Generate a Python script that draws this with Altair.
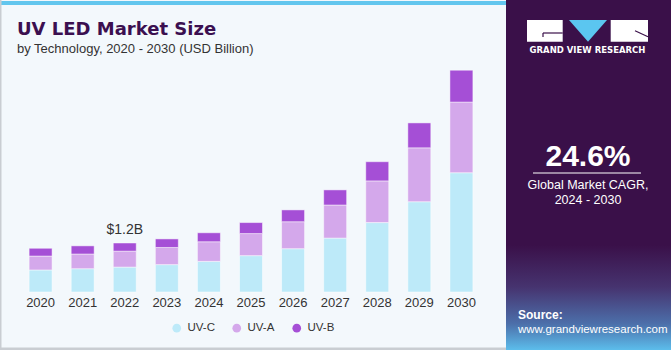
import altair as alt
import pandas as pd

years = ["2020", "2021", "2022", "2023", "2024", "2025", "2026", "2027", "2028", "2029", "2030"]
uv_c = [0.54, 0.57, 0.61, 0.67, 0.75, 0.89, 1.06, 1.32, 1.70, 2.21, 2.92]
uv_a = [0.34, 0.36, 0.39, 0.42, 0.48, 0.54, 0.66, 0.81, 1.02, 1.32, 1.73]
uv_b = [0.19, 0.20, 0.20, 0.21, 0.22, 0.27, 0.29, 0.37, 0.47, 0.61, 0.78]
series = ["UV-C", "UV-A", "UV-B"]
colors = ["#BDEAF9", "#D4A8EB", "#A54FD6"]
callout_year = "2022"
callout_text = "$1.2B"

rows = []
for i, y in enumerate(years):
    for k, (name, vals) in enumerate(zip(series, [uv_c, uv_a, uv_b])):
        rows.append({"year": y, "tech": name, "value": vals[i], "ord": k})
df = pd.DataFrame(rows)

tot = df[df.year == callout_year]["value"].sum()
ann = pd.DataFrame({"year": [callout_year], "total": [tot], "label": [callout_text]})
one = pd.DataFrame({"a": [0]})

OX, OY = 10, 60  # plot origin in page pixels
def px(X):
    return X - OX
def py(Y):
    return Y - OY

FONT = "Liberation Sans"

bars = alt.Chart(df).mark_bar(stroke="white", strokeWidth=0.8, strokeOpacity=0.6).encode(
    x=alt.X("year:N", sort=years, title=None,
            scale=alt.Scale(paddingInner=0.454, paddingOuter=0.454),
            axis=alt.Axis(labelAngle=0, ticks=False, domain=False, labelFontSize=13,
                          labelColor="#333333", labelFont=FONT, labelPadding=4, grid=False)),
    y=alt.Y("value:Q", stack="zero", axis=None,
            scale=alt.Scale(domain=[0, 5.68], nice=False)),
    color=alt.Color("tech:N", scale=alt.Scale(domain=series, range=colors),
                    legend=alt.Legend(title=None, orient="none", direction="horizontal",
                                      legendX=px(171), legendY=py(322), symbolType="circle",
                                      symbolSize=75, symbolStrokeWidth=0, labelFontSize=11.5,
                                      labelFont=FONT, labelColor="#333333", labelOffset=5,
                                      columnPadding=16, padding=0)),
    order=alt.Order("ord:Q", sort="ascending"),
)

callout = alt.Chart(ann).mark_text(baseline="alphabetic", dy=-9, fontSize=14, font=FONT,
                                   color="#333333").encode(
    x=alt.X("year:N", sort=years), y=alt.Y("total:Q"), text="label:N")

def rect(X1, Y1, X2, Y2, color, **kw):
    return alt.Chart(one).mark_rect(**kw).encode(
        x=alt.value(px(X1)), x2=alt.value(px(X2)), y=alt.value(py(Y1)), y2=alt.value(py(Y2)),
        color=alt.value(color))

def grad_rect(X1, Y1, X2, Y2, grad):
    return alt.Chart(one).mark_rect(color=grad).encode(
        x=alt.value(px(X1)), x2=alt.value(px(X2)), y=alt.value(py(Y1)), y2=alt.value(py(Y2)))

def line(X1, Y1, X2, Y2, color, w=1):
    return alt.Chart(one).mark_rule(color=color, strokeWidth=w).encode(
        x=alt.value(px(X1)), x2=alt.value(px(X2)), y=alt.value(py(Y1)), y2=alt.value(py(Y2)))

def text(X, Y, s, size, color, bold=False, align="left", font=FONT):
    return alt.Chart(one).mark_text(text=s, fontSize=size, color=color, align=align,
                                    baseline="alphabetic", font=font,
                                    fontWeight="bold" if bold else "normal").encode(
        x=alt.value(px(X)), y=alt.value(py(Y)))

PURPLE = "#3A1049"
deco = [
    rect(0, 1, 506, 5, "#62C6EE"),
    rect(0, 0, 1.5, 350, "#C9CDD2"),
    rect(0, 347.5, 506, 350, "#C9CDD2"),
    rect(506, 0, 671, 350, PURPLE),
    grad_rect(506, 245, 671, 350, alt.Gradient(
        gradient="linear", x1=0, y1=0, x2=0, y2=1,
        stops=[alt.GradientStop(color=PURPLE, offset=0),
               alt.GradientStop(color="#46336F", offset=0.4),
               alt.GradientStop(color="#4C6FAA", offset=0.75),
               alt.GradientStop(color="#5CBDEB", offset=1)])),
    # logo
    rect(527, 20, 562.7, 41.7, "white"),
    line(543, 33, 562.7, 33, PURPLE, 1.2),
    line(543, 33, 543, 37, PURPLE, 1.2),
    alt.Chart(one).mark_point(shape="M-1,-0.57L1,-0.57L0,0.57Z", filled=True, size=1444,
                              opacity=1, strokeWidth=0).encode(
        x=alt.value(px(588)), y=alt.value(py(30.85)), color=alt.value("#5BC6F0")),
    rect(610.7, 20, 648, 41.7, "white"),
    line(635, 30.7, 648, 36.7, PURPLE, 1.2),
    text(587.5, 53.3, "GRAND VIEW RESEARCH", 8.5, "white", bold=True, align="center",
         font="DejaVu Sans"),
    text(588, 166, "24.6%", 30, "white", bold=True, align="center"),
    line(533, 173, 641, 173, "white", 1),
    text(588, 189, "Global Market CAGR,", 12.5, "white", align="center"),
    text(588, 204, "2024 - 2030", 12.5, "white", align="center"),
    text(518, 319.3, "Source:", 12, "white", bold=True),
    text(518, 333, "www.grandviewresearch.com", 11.5, "white"),
    # titles
    text(17, 35, "UV LED Market Size", 18, "#3B0F50", bold=True, font="DejaVu Sans"),
    text(17, 53, "by Technology, 2020 - 2030 (USD Billion)", 13, "#333333"),
]

chart = alt.layer(*deco, bars, callout).properties(
    width=482, height=232,
    padding={"left": 10, "top": 60, "right": 179, "bottom": 58},
    autosize=alt.AutoSizeParams(type="none"),
    background="#F3F8FC",
).configure_view(stroke=None)

chart.save("out.html", embed_options={"renderer": "svg", "actions": False})
